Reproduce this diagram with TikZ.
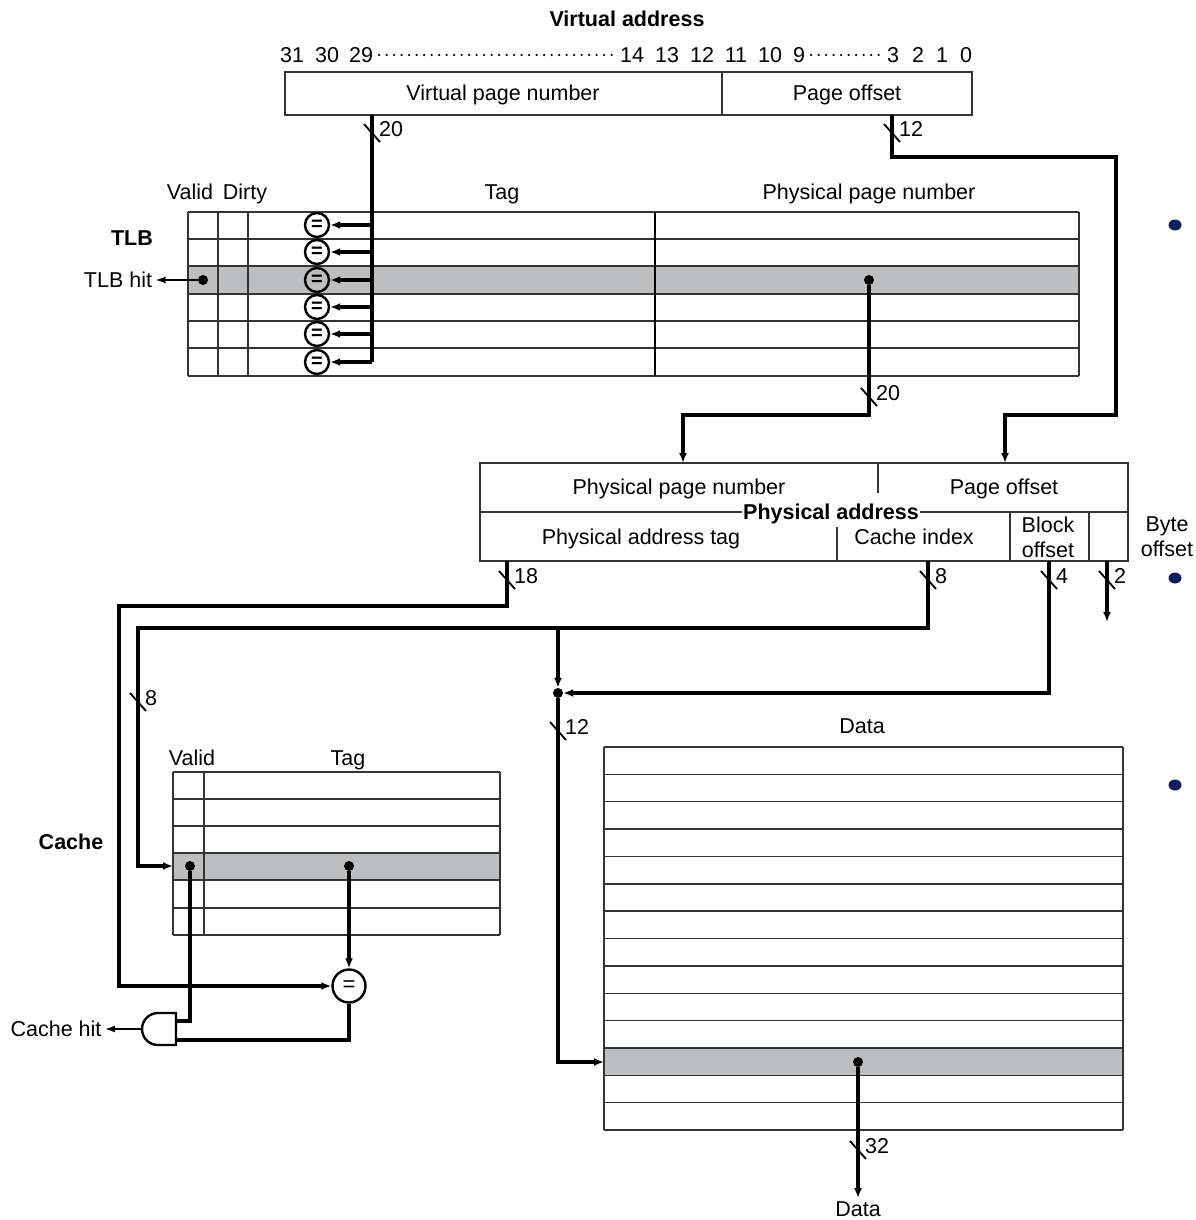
\documentclass[tikz,border=0pt]{standalone}
\usepackage{fontspec}
\setmainfont{Liberation Sans}
\usetikzlibrary{arrows.meta, positioning}

\definecolor{rowgray}{HTML}{BCBEC0}
\definecolor{navy}{HTML}{0B1F5C}

\newcommand{\buswidth}[4]{%
  \draw[line width=1.8pt] (#2-8,#3-9) -- (#2+8,#3+9);
  \node[anchor=west, inner sep=0pt] (#1) at (#2+7,#3-4) {#4};}

\begin{document}
\begin{tikzpicture}[x=1pt, y=-1pt,
 font=\fontsize{21.5}{25}\selectfont,
 every node/.append style={text depth=0pt},
 cell/.style={draw=black!80, line width=1.4pt},
 wire/.style={line width=3.2pt},
 arrow/.style={wire, -{Latex[length=10pt, width=8pt]}},
 thin arrow/.style={line width=1.5pt, -{Latex[length=10pt, width=7pt]}},
 cmp/.style={circle, draw, line width=2.4pt, inner sep=0pt, minimum size=24pt,
   font=\fontsize{20}{20}\selectfont\bfseries},
 title/.style={font=\fontsize{21.5}{25}\selectfont\bfseries},
 dot/.style={circle, fill, inner sep=0pt, minimum size=10pt},
 bits/.style={inner sep=2pt},
 dots/.style={line width=2.4pt, line cap=round, dash pattern=on 0pt off 7.5pt}]

  \useasboundingbox (0,0) rectangle (1195,1220);

  % virtual address
  \node[title] (vaddr) at (627,19) {Virtual address};
  \foreach \b/\x in {31/292, 30/327, 29/361, 14/632, 13/667, 12/702,
                     11/736, 10/770, 9/799, 3/893, 2/918, 1/942, 0/966}
    \node[bits] (bit\b) at (\x,55) {\b};
  \draw[dots] (bit29.east) ++(4,0) -- (bit14.west);
  \draw[dots] (bit9.east) ++(4,0) -- (bit3.west);
  \draw[cell] (285,72) rectangle (972,115);
  \draw[cell] (722,72) -- (722,115);
  \node (vpn) at (503,93) {Virtual page number};
  \node (voff) at (847,93) {Page offset};

  % TLB
  \node (tlbvalid) at (190,192) {Valid};
  \node (tlbdirty) at (245,192) {Dirty};
  \node (tlbtag) at (502,192) {Tag};
  \node (tlbppn) at (869,192) {Physical page number};
  \node[title] (tlb) at (132,238) {TLB};
  \fill[rowgray] (188,266) rectangle (1079,294);
  \foreach \y in {212,239,266,294,321,348,376}
    \draw[cell] (188,\y) -- (1079,\y);
  \foreach \x in {188,218,248,1079}
    \draw[cell] (\x,212) -- (\x,376);
  \draw[line width=2.2pt] (655,212) -- (655,376);

  \coordinate (vpnout) at (372,115);
  \coordinate (vpnend) at (372,362);
  \draw[wire] (vpnout) -- (vpnend);
  \foreach \i/\y in {1/225, 2/252, 3/280, 4/307, 5/334, 6/362} {
    \node[cmp] (eq\i) at (317,\y) {=};
    \coordinate (tap\i) at (372,\y);
    \draw[arrow] (tap\i) -- (eq\i);
  }

  \node[dot] (tlbv) at (203,280) {};
  \node (tlbhit) at (118,280) {TLB hit};
  \draw[thin arrow] (tlbv) -- (tlbhit);

  \node[dot] (tlbp) at (869,280) {};
  \coordinate (ppnin) at (683,463);
  \draw[arrow] (tlbp) -- (869,415) -| (ppnin);

  \coordinate (voffout) at (892,115);
  \coordinate (poffin) at (1005,463);
  \draw[arrow] (voffout) -- (892,157) -| (1116,415) -| (poffin);

  % physical address
  \draw[cell] (480,463) rectangle (1128,561);
  \draw[cell] (480,512) -- (1128,512);
  \draw[cell] (878,463) -- (878,493);
  \draw[cell] (837,527) -- (837,561);
  \draw[cell] (1010,512) -- (1010,561);
  \draw[cell] (1089,512) -- (1089,561);
  \node[title, fill=white, inner sep=1pt] (paddr) at (831,512) {Physical address};
  \node (pppn) at (679,487) {Physical page number};
  \node (poff) at (1004,487) {Page offset};
  \node (ptag) at (641,537) {Physical address tag};
  \node (pidx) at (914,537) {Cache index};
  \node[align=center, inner sep=0pt] (pblk) at (1048,537) {Block\\offset};
  \node[align=center, inner sep=0pt] (pbyte) at (1167,537) {Byte\\offset};

  % cache
  \node (cvalid) at (192,758) {Valid};
  \node (ctag) at (348,758) {Tag};
  \node[title] (cache) at (71,842) {Cache};
  \fill[rowgray] (173,853) rectangle (500,880);
  \foreach \y in {772,799,826,853,880,908,935}
    \draw[cell] (173,\y) -- (500,\y);
  \foreach \x in {173,204,500}
    \draw[cell] (\x,772) -- (\x,935);
  \node[dot] (cv) at (190,866) {};
  \node[dot] (ct) at (349,866) {};
  \node[cmp, minimum size=33pt, font=\fontsize{22}{22}\selectfont] (cmpc) at (349,986) {=};
  \draw[arrow] (ct) -- (cmpc);

  \draw[line width=2.4pt, fill=white] (176,1013) -- (158,1013)
    arc[start angle=270, end angle=90, radius=16] -- (176,1045) -- cycle;
  \coordinate (andin1) at (176,1021);
  \coordinate (andin2) at (176,1040);
  \coordinate (andout) at (142,1029);
  \draw[wire] (cv) |- (andin1);
  \draw[wire] (cmpc) |- (andin2);
  \node (chit) at (56,1029) {Cache hit};
  \draw[thin arrow] (andout) -- (chit);

  % address wires
  \coordinate (tagout) at (507,561);
  \draw[arrow] (tagout) -- (507,606) -| (119,986) -- (cmpc);
  \coordinate (idxout) at (928,561);
  \coordinate (cachein) at (173,866);
  \draw[arrow] (idxout) -- (928,628) -| (138,866) -- (cachein);
  \node[dot] (jn) at (558,693) {};
  \coordinate (jtap) at (558,628);
  \draw[arrow] (jtap) -- (jn);
  \coordinate (blkout) at (1049,561);
  \draw[arrow] (blkout) |- (jn);
  \coordinate (byteout) at (1107,561);
  \coordinate (byteend) at (1107,622);
  \draw[arrow] (byteout) -- (byteend);
  \coordinate (datain) at (604,1062);
  \draw[arrow] (jn) |- (datain);

  % data
  \node (dlabel) at (862,726) {Data};
  \fill[rowgray] (604,1048) rectangle (1123,1076);
  \foreach \i in {0,...,14}
    \draw[cell] (604,747+27.36*\i) -- (1123,747+27.36*\i);
  \foreach \x in {604,1123}
    \draw[cell] (\x,747) -- (\x,1130);
  \node[dot] (dd) at (858,1062) {};
  \node (dout) at (858,1209) {Data};
  \draw[arrow] (dd) -- (dout);

  \buswidth{bw20a}{372}{133}{20}
  \buswidth{bw12a}{892}{133}{12}
  \buswidth{bw20b}{869}{397}{20}
  \buswidth{bw18}{507}{580}{18}
  \buswidth{bw8a}{928}{580}{8}
  \buswidth{bw4}{1049}{580}{4}
  \buswidth{bw2}{1107}{580}{2}
  \buswidth{bw8b}{138}{702}{8}
  \buswidth{bw12b}{558}{731}{12}
  \buswidth{bw32}{858}{1150}{32}

  \foreach \y in {225,578,785}
    \fill[navy] (1175,\y) ellipse [x radius=6.5, y radius=5.5];
\end{tikzpicture}
\end{document}
